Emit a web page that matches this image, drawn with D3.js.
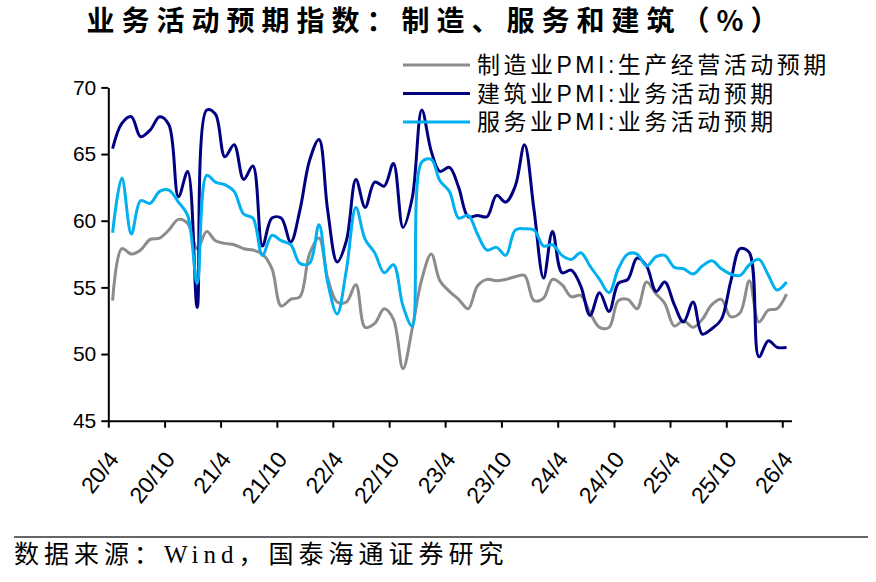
<!DOCTYPE html>
<html>
<head>
<meta charset="utf-8">
<script src="https://cdn.jsdelivr.net/npm/d3@7"></script>
<style>
  html, body { margin: 0; padding: 0; background: #fff; }
  svg { display: block; }
</style>
</head>
<body>
<svg width="876" height="582"></svg>
<script>
var width = 876, height = 582;

// monthly, 2020-04 .. 2026-04
var firstMonth = new Date(2020, 3, 15);
var seriesNames = ['制造业PMI:生产经营活动预期', '建筑业PMI:业务活动预期', '服务业PMI:业务活动预期'];
var seriesColors = ['#8c8c8c', '#000080', '#00b0f0'];

var manufacturing = [
  54.0, 57.9, 57.5, 57.8, 58.6, 58.7, 59.3, 60.1, 59.8, 57.9, 59.2, 58.5,
  58.3, 58.2, 57.9, 57.8, 57.5, 56.4, 53.6, 54.1, 54.3, 57.5, 58.7, 55.7,
  53.9, 53.9, 55.2, 52.0, 52.3, 53.4, 52.6, 48.9, 51.9, 55.6, 57.5, 55.5,
  54.7, 54.1, 53.4, 55.1, 55.6, 55.5, 55.6, 55.8, 55.9, 54.0, 54.2, 55.6,
  55.2, 54.3, 54.4, 53.1, 52.0, 52.0, 54.0, 54.1, 53.4, 55.4, 54.5, 53.8,
  52.1, 52.5, 52.0, 52.6, 53.7, 54.1, 52.8, 53.1, 55.5, 52.4, 53.3, 53.4,
  54.5
];
var construction = [
  65.4, 67.3, 67.8, 66.3, 66.8, 67.8, 67.2, 61.8, 63.7, 53.5, 68.3, 68.0,
  64.8, 65.7, 63.1, 64.1, 58.1, 60.2, 60.2, 58.4, 60.8, 64.5, 66.1, 60.8,
  56.9, 58.5, 63.1, 61.0, 62.9, 62.6, 64.3, 59.5, 61.7, 68.3, 65.2, 63.7,
  64.0, 62.5, 60.3, 60.4, 60.3, 61.9, 61.4, 62.6, 65.7, 60.8, 55.7, 59.2,
  56.1, 56.3, 55.1, 52.9, 54.6, 53.2, 55.3, 55.6, 57.2, 56.6, 54.7, 55.4,
  53.7, 52.4, 53.9, 51.5, 51.9, 52.6, 55.4, 57.9, 57.6, 49.8, 51.0, 50.5,
  50.5
];
var services = [
  59.1, 63.2, 59.0, 61.5, 61.3, 62.2, 62.3, 61.4, 60.4, 55.3, 63.4, 62.9,
  62.7, 62.2, 60.5, 60.2, 57.4, 58.9, 58.5, 58.2, 56.8, 56.8, 59.7, 55.4,
  53.0, 56.3, 61.0, 58.6, 57.6, 56.1, 56.7, 53.6, 52.1, 64.4, 64.6, 63.0,
  62.2, 60.2, 60.4, 59.0, 57.8, 58.0, 57.4, 59.3, 59.4, 59.3, 58.1, 58.2,
  57.4, 57.1, 57.6, 56.6, 55.6, 54.6, 56.4, 57.5, 57.5, 56.6, 57.3, 57.4,
  56.5, 56.4, 56.0, 56.6, 57.0, 56.4, 56.0, 55.9, 56.7, 57.1, 55.9, 54.8,
  55.4
];

var yTicks = [45, 50, 55, 60, 65, 70];
var xTickLabels = ['20/4', '20/10', '21/4', '21/10', '22/4', '22/10', '23/4',
                   '23/10', '24/4', '24/10', '25/4', '25/10', '26/4'];

var svg = d3.select('svg');

var dates = manufacturing.map(function(d, i) {
  return new Date(firstMonth.getFullYear(), firstMonth.getMonth() + i, 15);
});
var tickDates = xTickLabels.map(function(s) {
  var p = s.split('/');
  return new Date(2000 + (+p[0]), +p[1] - 1, 1);
});

var x = d3.scaleTime()
    .domain([new Date(2020, 3, 1), new Date(2026, 4, 1)])
    .range([108.3, 791.5]);
var y = d3.scaleLinear()
    .domain([45, 70])
    .range([420.7, 87.4]);

// title
svg.append('text')
  .attr('x', 436).attr('y', 31)
  .attr('text-anchor', 'middle')
  .style('font-family', '"Noto Sans CJK SC", sans-serif')
  .style('font-weight', 700)
  .style('font-size', '28px')
  .style('letter-spacing', '7px')
  .text('业务活动预期指数：制造、服务和建筑（%）');

// lines
var line = d3.line()
    .x(function(d) { return x(d.date); })
    .y(function(d) { return y(d.value); })
    .curve(d3.curveCatmullRom.alpha(0.5));

[manufacturing, construction, services].forEach(function(values, k) {
  var pts = values.map(function(v, i) { return {date: dates[i], value: v}; });
  svg.append('path')
    .datum(pts)
    .attr('fill', 'none')
    .attr('stroke', seriesColors[k])
    .attr('stroke-width', 3)
    .attr('stroke-linejoin', 'round')
    .attr('d', line);
});

// axes
var yAxis = svg.append('g')
  .attr('transform', 'translate(108.3,0)')
  .call(d3.axisLeft(y).tickValues(yTicks).tickSize(7).tickSizeOuter(0).tickPadding(5));

var xAxis = svg.append('g')
  .attr('transform', 'translate(0,420.7)')
  .call(d3.axisBottom(x).tickValues(tickDates).tickSize(7).tickSizeOuter(0)
    .tickFormat(function(d, i) { return xTickLabels[i]; }));

[yAxis, xAxis].forEach(function(g) {
  g.selectAll('path, line').attr('stroke', '#000').attr('stroke-width', 2);
  g.selectAll('text')
    .attr('fill', '#000')
    .style('font-family', '"Liberation Sans", Arial, sans-serif')
    .style('font-size', '21px');
});

xAxis.selectAll('text')
  .attr('text-anchor', 'end')
  .attr('dy', null)
  .attr('y', null)
  .style('font-size', '23px')
  .attr('transform', 'translate(11,39) rotate(-52)');

// legend
var legend = svg.append('g');
seriesNames.forEach(function(name, k) {
  var ly = 65 + k * 28.5;
  legend.append('line')
    .attr('x1', 403).attr('x2', 470)
    .attr('y1', ly).attr('y2', ly)
    .attr('stroke', seriesColors[k])
    .attr('stroke-width', 3);
  legend.append('text')
    .attr('x', 477).attr('y', ly + 8)
    .style('font-family', '"Liberation Sans", "Noto Sans CJK SC", sans-serif')
    .style('font-size', '23px')
    .style('letter-spacing', '3.5px')
    .text(name);
});

// source note
svg.append('line')
  .attr('x1', 14).attr('x2', 868)
  .attr('y1', 537).attr('y2', 537)
  .attr('stroke', '#333').attr('stroke-width', 1.5);
svg.append('text')
  .attr('x', 14).attr('y', 563)
  .style('font-family', '"Liberation Serif", "Noto Sans CJK SC", serif')
  .style('font-size', '25px')
  .style('letter-spacing', '5px')
  .text('数据来源：Wind，国泰海通证券研究');
</script>
</body>
</html>
